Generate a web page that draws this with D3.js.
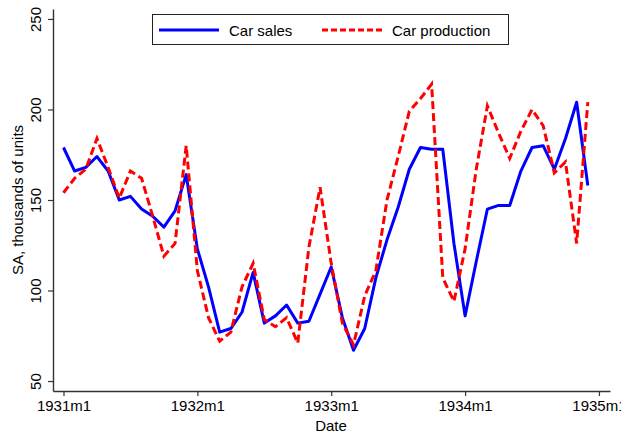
<!DOCTYPE html>
<html>
<head>
<meta charset="utf-8">
<script src="https://cdn.jsdelivr.net/npm/d3@7"></script>
<style>
  body { margin: 0; background: #fff; }
  text { font-family: "Liberation Sans", Arial, sans-serif; fill: #000; }
</style>
</head>
<body>
<script>
// Data: monthly, 1931m1 .. 1934m12 (thousands of units, SA)
var carSales = [
  179, 166, 168, 174, 166, 150, 152, 145, 141, 135, 144, 164,
  123, 102, 77, 79, 88, 110, 82, 86, 92, 82, 83, 98,
  113, 85, 67, 79, 107, 128, 146, 167, 179, 178, 178, 126,
  86, 116, 145, 147, 147, 166, 179, 180, 167, 184, 204, 158
]
var carProduction = [
  154, 162, 167, 184, 168, 151, 166, 162, 141, 119, 126, 180,
  111, 85, 72, 77, 102, 115, 84, 80, 85, 71, 124, 157,
  115, 82, 70, 97, 111, 150, 174, 199, 206, 214, 107, 94,
  123, 167, 202, 187, 173, 188, 200, 191, 165, 171, 126, 204
]
var xTicks = [0, 12, 24, 36, 48]
var xTickLabels = ['1931m1', '1932m1', '1933m1', '1934m1', '1935m1']
var yTicks = [50, 100, 150, 200, 250]

var W = 621, H = 434
var svg = d3.select('body').append('svg')
    .attr('width', W)
    .attr('height', H)

// Scales
var xScale = d3.scaleLinear().domain([-0.94, 48.99]).range([53, 610])
var yScale = d3.scaleLinear().domain([44.5, 255.5]).range([391, 9])

// Axes
var xAxis = d3.axisBottom(xScale)
    .tickValues(xTicks)
    .tickFormat(function (d, i) { return xTickLabels[i] })
    .tickSizeInner(5)
    .tickSizeOuter(0)
var yAxis = d3.axisLeft(yScale)
    .tickValues(yTicks)
    .tickSizeInner(5)
    .tickSizeOuter(0)

var gx = svg.append('g')
    .attr('transform', 'translate(0,391)')
    .call(xAxis)
gx.select('.domain').attr('stroke', '#333').attr('stroke-width', 1.4)
gx.selectAll('.tick line').attr('stroke', '#333').attr('stroke-width', 1.2)
gx.selectAll('.tick text')
    .attr('y', 9)
    .attr('dy', '0.71em')
    .style('font-size', '15px')
    .style('font-family', '"Liberation Sans", Arial, sans-serif')
    .attr('fill', '#000')

var gy = svg.append('g')
    .attr('transform', 'translate(53,0)')
    .call(yAxis)
gy.select('.domain').attr('stroke', '#333').attr('stroke-width', 1.4)
gy.selectAll('.tick line').attr('stroke', '#333').attr('stroke-width', 1.2)
gy.selectAll('.tick text')
    .attr('x', null)
    .attr('dy', null)
    .attr('transform', 'translate(-12,0) rotate(-90)')
    .style('text-anchor', 'middle')
    .style('font-size', '15px')
    .style('font-family', '"Liberation Sans", Arial, sans-serif')
    .attr('fill', '#000')

// Axis titles
svg.append('text')
    .attr('transform', 'translate(23,200) rotate(-90)')
    .style('text-anchor', 'middle')
    .style('font-size', '15px')
    .text('SA, thousands of units')
svg.append('text')
    .attr('x', 331)
    .attr('y', 431)
    .style('text-anchor', 'middle')
    .style('font-size', '15px')
    .text('Date')

// Lines
var line = d3.line()
    .x(function (d, i) { return xScale(i) })
    .y(function (d) { return yScale(d) })

svg.append('path')
    .datum(carSales)
    .attr('d', line)
    .attr('fill', 'none')
    .attr('stroke', '#0000ff')
    .attr('stroke-width', 3)
    .attr('stroke-linejoin', 'round')

svg.append('path')
    .datum(carProduction)
    .attr('d', line)
    .attr('fill', 'none')
    .attr('stroke', '#ff0000')
    .attr('stroke-width', 3)
    .attr('stroke-dasharray', '8,4')

// Legend
var legend = svg.append('g')
legend.append('rect')
    .attr('x', 152.5).attr('y', 14.5)
    .attr('width', 356).attr('height', 30)
    .attr('fill', '#fff')
    .attr('stroke', '#222')
    .attr('stroke-width', 1)
legend.append('line')
    .attr('x1', 159).attr('x2', 219).attr('y1', 30).attr('y2', 30)
    .attr('stroke', '#0000ff').attr('stroke-width', 3)
legend.append('text')
    .attr('x', 229).attr('y', 35.5)
    .style('font-size', '15px')
    .text('Car sales')
legend.append('line')
    .attr('x1', 322).attr('x2', 382).attr('y1', 30).attr('y2', 30)
    .attr('stroke', '#ff0000').attr('stroke-width', 3)
    .attr('stroke-dasharray', '6,3')
legend.append('text')
    .attr('x', 392).attr('y', 35.5)
    .style('font-size', '15px')
    .text('Car production')
</script>
</body>
</html>
